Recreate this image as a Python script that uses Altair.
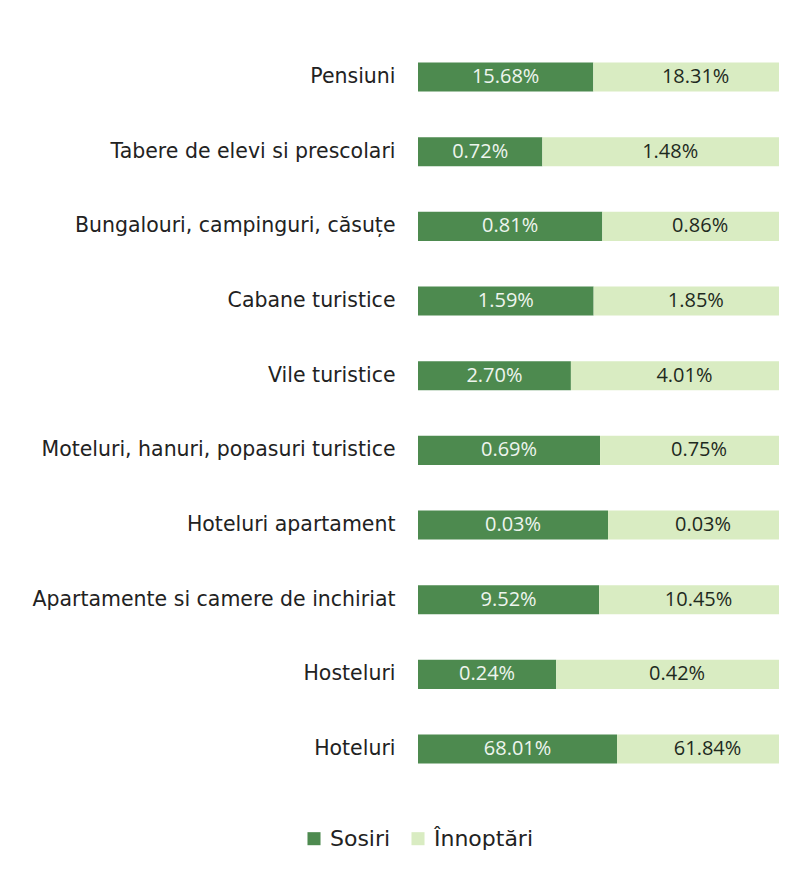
import altair as alt
import pandas as pd

categories = [
    "Pensiuni",
    "Tabere de elevi si prescolari",
    "Bungalouri, campinguri, căsuțe",
    "Cabane turistice",
    "Vile turistice",
    "Moteluri, hanuri, popasuri turistice",
    "Hoteluri apartament",
    "Apartamente si camere de inchiriat",
    "Hosteluri",
    "Hoteluri",
]
sosiri = [15.68, 0.72, 0.81, 1.59, 2.70, 0.69, 0.03, 9.52, 0.24, 68.01]
innoptari = [18.31, 1.48, 0.86, 1.85, 4.01, 0.75, 0.03, 10.45, 0.42, 61.84]
series = ["Sosiri", "Înnoptări"]
colors = ["#4d8a4f", "#d9ecc2"]
text_colors = ["#eef5ee", "#1e2a1e"]

rows = []
for c, s, n in zip(categories, sosiri, innoptari):
    rows.append({"cat": c, "serie": series[0], "ord": 0, "val": s})
    rows.append({"cat": c, "serie": series[1], "ord": 1, "val": n})
df = pd.DataFrame(rows)

base = alt.Chart(df).transform_joinaggregate(
    total="sum(val)", groupby=["cat"]
).transform_calculate(
    frac="datum.val / datum.total",
    lbl="format(datum.val, '.2f') + '%'",
).transform_stack(
    stack="frac", groupby=["cat"], as_=["x0", "x1"],
    sort=[alt.SortField("ord", order="ascending")],
).transform_calculate(mid="(datum.x0 + datum.x1) / 2")

yenc = alt.Y(
    "cat:N", sort=categories, title=None,
    scale=alt.Scale(paddingInner=0.61, paddingOuter=0.305),
    axis=alt.Axis(domain=False, ticks=False, labelPadding=23,
                  labelFont="DejaVu Sans", labelFontSize=20.5,
                  labelColor="#222222", labelLimit=420),
)
xscale = alt.Scale(domain=[0, 0.95], nice=False)

bars = base.mark_bar(clip=True).encode(
    x=alt.X("x0:Q", scale=xscale, axis=None),
    x2="x1:Q",
    y=yenc,
    color=alt.Color("serie:N", scale=alt.Scale(domain=series, range=colors),
                    sort=series,
                    legend=alt.Legend(
                        title=None, orient="none", legendX=-115, legendY=788,
                        direction="horizontal", symbolType="square",
                        symbolSize=170, symbolStrokeWidth=0,
                        labelFont="DejaVu Sans", labelFontSize=22,
                        labelColor="#222222", columnPadding=16,
                        labelOffset=5)),
)

labels = base.mark_text(font="Open Sans", fontSize=20).encode(
    x=alt.X("mid:Q", scale=xscale),
    y=alt.Y("cat:N", sort=categories),
    text="lbl:N",
    color=alt.Color("serie:N", scale=alt.Scale(domain=series, range=text_colors),
                    legend=None),
)

chart = alt.layer(bars, labels).resolve_scale(color="independent").properties(
    width=361, height=746.7,
    autosize=alt.AutoSizeParams(type="none"),
    padding={"left": 410, "top": 31.7, "right": 0, "bottom": 80},
).configure_view(stroke=None)

chart.save("out.html", embed_options={"renderer": "svg", "actions": False})
